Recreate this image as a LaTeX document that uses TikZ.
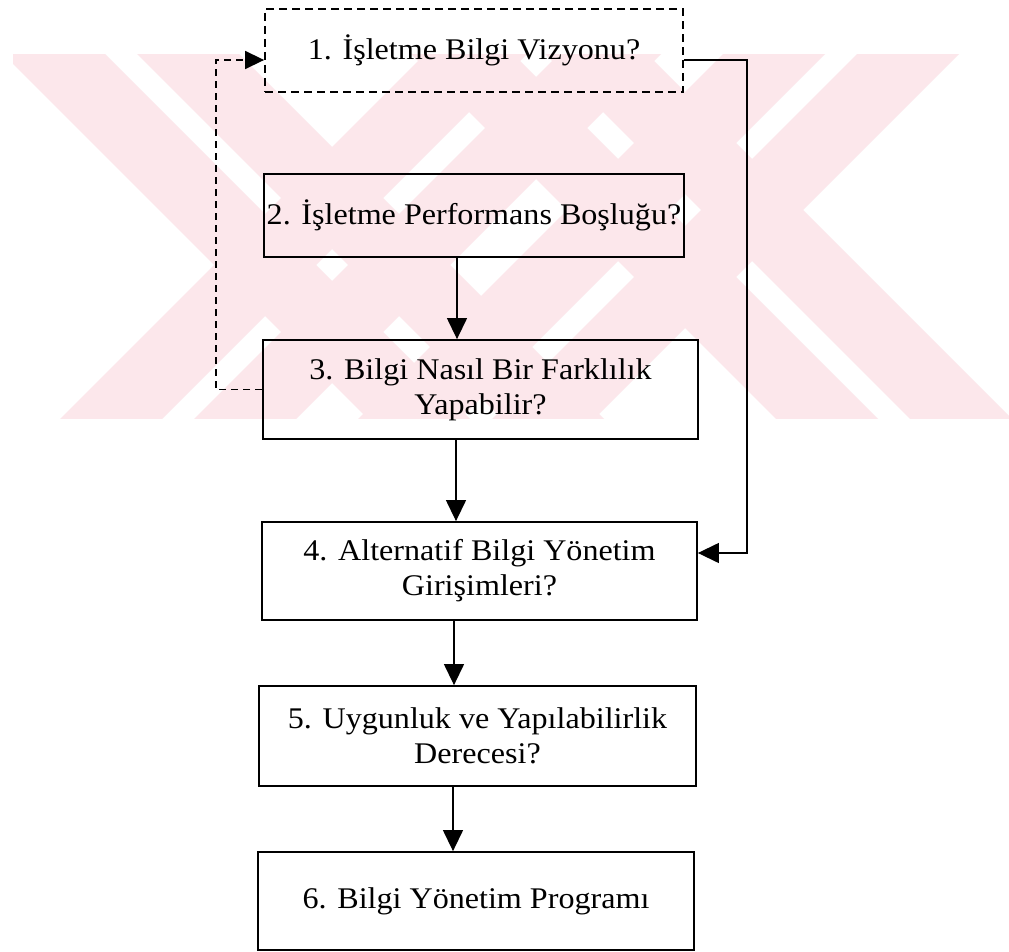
\documentclass[tikz,border=0pt]{standalone}
\usepackage{fontspec}
\setmainfont[FakeStretch=1.07]{Liberation Serif}
\usetikzlibrary{arrows.meta}
\definecolor{wmpink}{RGB}{252,231,235}
\begin{document}
\begin{tikzpicture}[x=1pt,y=-1pt,
  boxnode/.style={draw=black, line width=1.8pt, inner sep=0pt, align=center,
    font=\fontsize{30}{35}\selectfont},
  dashbox/.style={dash pattern=on 8pt off 5pt},
  conn/.style={line width=1.3pt, draw=black},
  tipbig/.style={-{Triangle[length=21pt,width=20pt]}},
  tipsmall/.style={-{Triangle[length=19pt,width=18pt]}},
  dashconn/.style={line width=1.5pt, dash pattern=on 7pt off 5pt}
]
\useasboundingbox (0,0) rectangle (1009,952);
\fill[white] (0,0) rectangle (1009,952);

% watermark
\begin{scope}
  \clip (13,55) rectangle (1009,418);
  \foreach \c/\s in {67/597, 475/895} {
    \foreach \a/\b in {-118/-16, 16/118} {
      \fill[wmpink] ({\c+\a},0) -- ({\c+\b},0) -- ({\c+\b+480},480) -- ({\c+\a+480},480) -- cycle;
      \fill[wmpink] ({\s+\a},0) -- ({\s+\b},0) -- ({\s+\b-480},480) -- ({\s+\a-480},480) -- cycle;
    }
  }
\end{scope}

% boxes
\node[boxnode, dashbox, minimum width=418pt, minimum height=83pt] (b1) at (474,50.5) {1. İşletme Bilgi Vizyonu?};
\node[boxnode, minimum width=420pt, minimum height=83pt] (b2) at (474,215.5) {2. İşletme Performans Boşluğu?};
\node[boxnode, minimum width=435pt, minimum height=99pt] (b3) at (480.5,389.5) {3. Bilgi Nasıl Bir Farklılık\\Yapabilir?};
\node[boxnode, minimum width=435pt, minimum height=98pt] (b4) at (479.5,571) {4. Alternatif Bilgi Yönetim\\Girişimleri?};
\node[boxnode, minimum width=437pt, minimum height=100pt] (b5) at (477.5,736) {5. Uygunluk ve Yapılabilirlik\\Derecesi?};
\node[boxnode, minimum width=436pt, minimum height=98pt] (b6) at (476,901) {6. Bilgi Yönetim Programı};

% helper coordinates
\coordinate (x23) at (457,0);
\coordinate (x34) at (456,0);
\coordinate (x45) at (454,0);
\coordinate (x56) at (453,0);
\coordinate (lx) at (216,0);
\coordinate (rx) at (747,0);
\coordinate (ya) at (0,60);
\coordinate (yb) at (0,553);

% vertical connectors
\draw[conn, tipbig] (b2.south -| x23) -- (b3.north -| x23);
\draw[conn, tipbig] (b3.south -| x34) -- (b4.north -| x34);
\draw[conn, tipbig] (b4.south -| x45) -- (b5.north -| x45);
\draw[conn, tipbig] (b5.south -| x56) -- (b6.north -| x56);

% dashed feedback from 3 to 1
\draw[dashconn, tipsmall] (b3.west) -- (b3.west -| lx) -- (lx |- ya) -- (b1.west |- ya);

% solid link from 1 to 4
\draw[conn, tipbig] (b1.east |- ya) -- (rx |- ya) -- (rx |- yb) -- (b4.east |- yb);
\end{tikzpicture}
\end{document}
